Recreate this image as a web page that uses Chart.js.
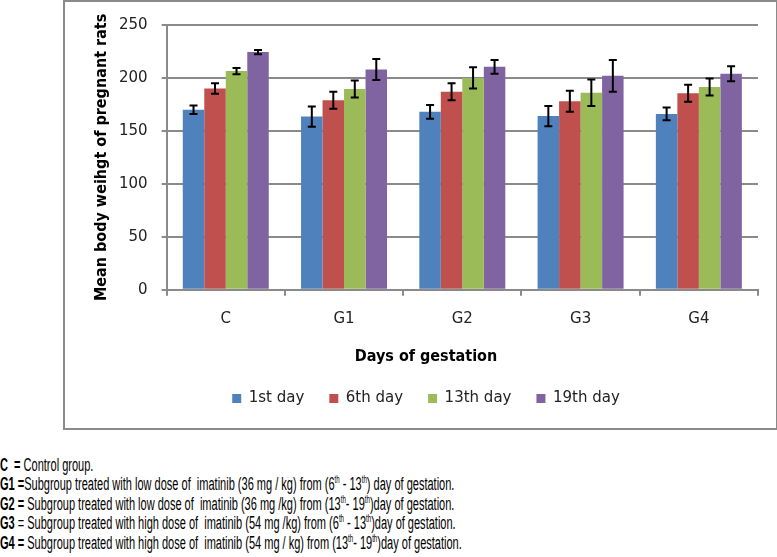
<!DOCTYPE html>
<html>
<head>
<meta charset="utf-8">
<script src="https://cdn.jsdelivr.net/npm/chart.js@4/dist/chart.umd.min.js"></script>
<style>
  body { margin: 0; width: 777px; height: 557px; background: #fff; position: relative; overflow: hidden; }
  #frame { position: absolute; left: 63px; top: 0px; width: 711px; height: 426px; border: 2px solid #8a8a8a; }
  #note { position: absolute; left: 0; top: 456px; font-family: "Liberation Sans Narrow", "Liberation Sans", sans-serif; font-size: 18px; line-height: 19.4px; color: #000; white-space: nowrap; transform-origin: 0 0; }
  #note sup { font-size: 10px; line-height: 0; vertical-align: 7px; }
</style>
</head>
<body>
<div id="frame"><canvas id="chart"></canvas></div>
<div id="note">
  <div><b>C&nbsp; =</b> Control group.</div>
  <div id="longLine"><b>G1 =</b>Subgroup treated with low dose of&nbsp; imatinib (36 mg / kg) from (6<sup>th</sup> - 13<sup>th</sup>) day of gestation.</div>
  <div><b>G2 =</b> Subgroup treated with low dose of&nbsp; imatinib (36 mg /kg) from (13<sup>th</sup>- 19<sup>th</sup>)day of gestation.</div>
  <div><b>G3</b> = Subgroup treated with high dose of&nbsp; imatinib (54 mg /kg) from (6<sup>th</sup> - 13<sup>th</sup>)day of gestation.</div>
  <div><b>G4 =</b> Subgroup treated with high dose of&nbsp; imatinib (54 mg / kg) from (13<sup>th</sup>- 19<sup>th</sup>)day of gestation.</div>
</div>
<script>
// groups on the x axis
const groups = ['C', 'G1', 'G2', 'G3', 'G4'];
// mean body weight per day of gestation, with error (+/-)
const day1 = [170, 163.5, 168, 164, 166];
const day1Err = [4, 9.5, 6.5, 9.5, 6];
const day6 = [190, 179, 187, 178, 185.5];
const day6Err = [5, 8, 8, 10, 8];
const day13 = [206.5, 189.5, 200, 186, 191.5];
const day13Err = [3, 8, 10, 12.5, 8];
const day19 = [224.5, 208, 210.5, 202, 204];
const day19Err = [2, 10, 6.5, 15, 7];
const yTicks = [0, 50, 100, 150, 200, 250];

// squeeze the footnote text to the narrow look of the original
let note = document.getElementById('note');
let longLine = document.getElementById('longLine');
note.style.transform = 'scaleX(' + (462 / longLine.scrollWidth) + ')';

// draw the error bars on top of each bar
const errorBars = {
  id: 'errorBars',
  afterDatasetsDraw(chart) {
    let ctx = chart.ctx;
    let y = chart.scales.y;
    ctx.save();
    ctx.strokeStyle = '#000';
    ctx.lineWidth = 2;
    chart.data.datasets.forEach((ds, i) => {
      let meta = chart.getDatasetMeta(i);
      meta.data.forEach((bar, j) => {
        let v = ds.data[j];
        let e = ds.errors[j];
        let top = y.getPixelForValue(v + e);
        let bottom = y.getPixelForValue(v - e);
        ctx.beginPath();
        ctx.moveTo(bar.x, top);
        ctx.lineTo(bar.x, bottom);
        ctx.moveTo(bar.x - 4, top);
        ctx.lineTo(bar.x + 4, top);
        ctx.moveTo(bar.x - 4, bottom);
        ctx.lineTo(bar.x + 4, bottom);
        ctx.stroke();
      });
    });
    ctx.restore();
  }
};

Chart.defaults.font.family = '"DejaVu Sans", sans-serif';
Chart.defaults.font.size = 15;
Chart.defaults.color = '#222';

let chartContainer = document.getElementById('chart');
let chart = new Chart(chartContainer, {
  type: 'bar',
  data: {
    labels: groups,
    datasets: [
      { label: '1st day', data: day1, errors: day1Err, backgroundColor: '#4F81BD' },
      { label: '6th day', data: day6, errors: day6Err, backgroundColor: '#C0504D' },
      { label: '13th day', data: day13, errors: day13Err, backgroundColor: '#9BBB59' },
      { label: '19th day', data: day19, errors: day19Err, backgroundColor: '#8064A2' }
    ]
  },
  options: {
    responsive: true,
    maintainAspectRatio: false,
    animation: false,
    datasets: {
      bar: { categoryPercentage: 0.727, barPercentage: 1, borderWidth: 0 }
    },
    layout: { padding: { left: 29, right: 18, top: 12, bottom: 12 } },
    scales: {
      x: {
        grid: { offset: true, drawOnChartArea: false, color: '#8a8a8a', lineWidth: 2, tickLength: 6 },
        border: { color: '#8a8a8a', width: 2 },
        ticks: { padding: 14, color: '#222' }
      },
      y: {
        min: 0,
        max: 250,
        afterBuildTicks: (axis) => { axis.ticks = yTicks.map(v => ({ value: v })); },
        grid: { color: '#8a8a8a', lineWidth: 2, tickLength: 5 },
        border: { color: '#8a8a8a', width: 2 },
        ticks: { padding: 14, color: '#222' },
        title: {
          display: true,
          text: 'Mean body weihgt of pregnant rats',
          color: '#000',
          font: { family: '"DejaVu Sans Condensed", "DejaVu Sans", sans-serif', size: 16, weight: 'bold', lineHeight: 1 },
          padding: { top: 0, bottom: -5 }
        }
      }
    },
    plugins: {
      title: {
        display: true,
        position: 'bottom',
        text: 'Days of gestation',
        color: '#000',
        weight: 500,
        font: { family: '"DejaVu Sans Condensed", "DejaVu Sans", sans-serif', size: 16, weight: 'bold' },
        padding: { top: 5, bottom: 0 }
      },
      legend: {
        position: 'bottom',
        weight: 1000,
        labels: { boxWidth: 9, boxHeight: 9, padding: 25, color: '#222' }
      },
      tooltip: { enabled: false }
    }
  },
  plugins: [errorBars]
});
</script>
</body>
</html>
